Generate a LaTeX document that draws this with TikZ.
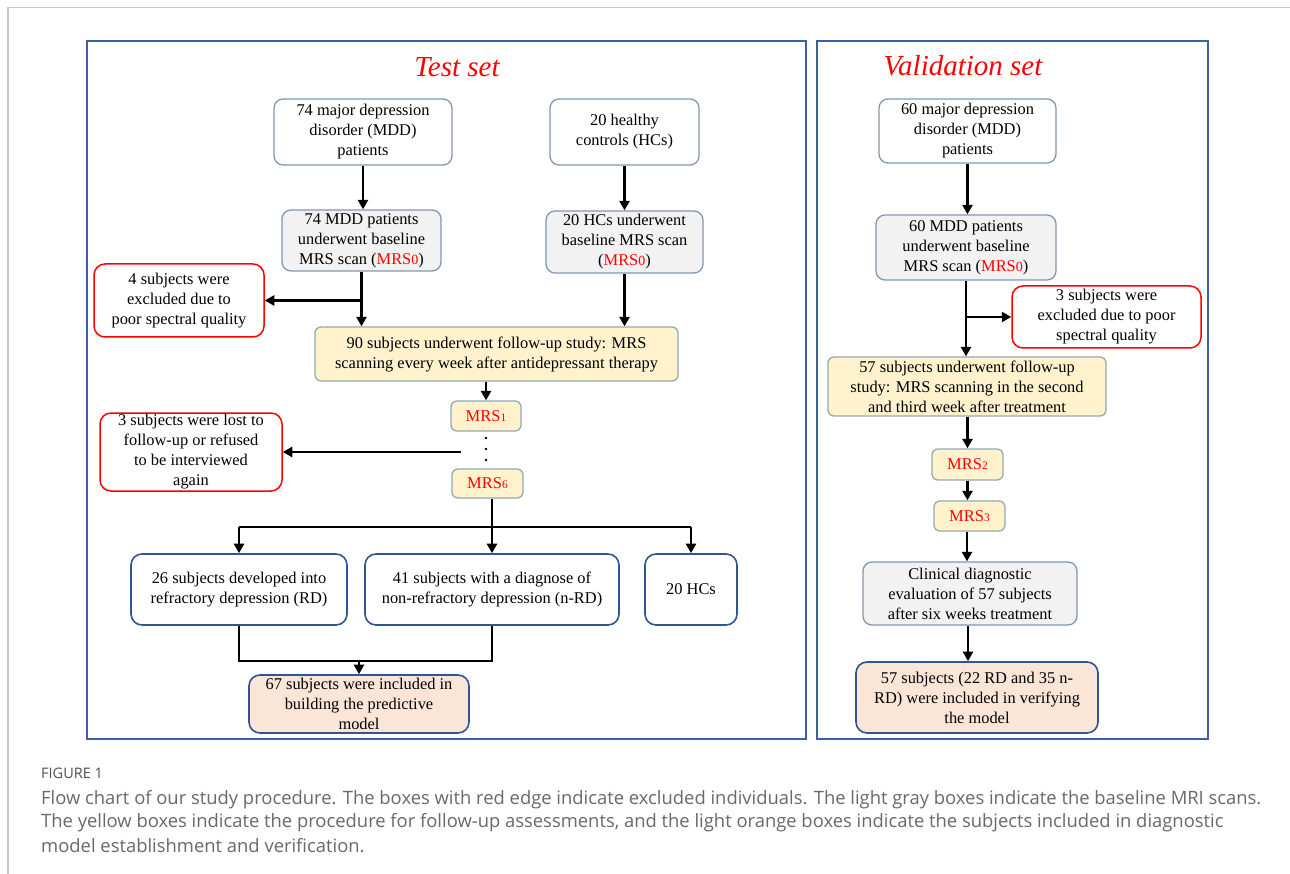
\documentclass[tikz,border=0pt]{standalone}
\usepackage{fontspec}
\setmainfont{Liberation Serif}
\newfontfamily\capfont{Open Sans}
\usetikzlibrary{arrows.meta,calc}
\definecolor{frameblue}{RGB}{62,96,160}
\definecolor{darkblue}{RGB}{47,85,151}
\definecolor{greyblue}{RGB}{132,151,176}
\definecolor{boxgray}{RGB}{242,242,242}
\definecolor{boxyellow}{RGB}{255,242,204}
\definecolor{yellowedge}{RGB}{146,170,176}
\definecolor{boxorange}{RGB}{251,229,214}
\definecolor{pagegray}{RGB}{200,200,200}
\definecolor{captext}{RGB}{105,105,105}
\definecolor{caphead}{RGB}{80,80,80}
\newcommand{\rd}[1]{\textcolor{red}{#1}}
\newcommand{\mrsz}{\rd{MRS{\fontsize{14}{14}\selectfont 0}}}
\newcommand{\mrsn}[1]{\rd{MRS{\fontsize{11.5}{11.5}\selectfont #1}}}
\begin{document}
\begin{tikzpicture}[x=1pt,y=-1pt,
  base/.style={rounded corners=9pt, align=center, inner sep=0pt,
     font=\fontsize{16.4}{20}\selectfont, line width=1.3pt},
  whitebox/.style={base, draw=greyblue, fill=white},
  graybox/.style={base, draw=greyblue, fill=boxgray},
  yelbox/.style={base, draw=yellowedge, fill=boxyellow, rounded corners=6pt},
  redbox/.style={base, draw=red, fill=white, rounded corners=11pt, line width=1.5pt},
  bluebox/.style={base, draw=darkblue, fill=white, rounded corners=11pt, line width=1.6pt},
  orbox/.style={base, draw=darkblue, fill=boxorange, rounded corners=11pt, line width=1.6pt},
  mrsbox/.style={yelbox, font=\fontsize{16.5}{18}\selectfont},
  arr/.style={line width=2.6pt, -{Triangle[length=9.5pt,width=10pt]}},
  ln/.style={line width=2.6pt},
  title/.style={font=\fontsize{29}{30}\selectfont\itshape, text=red},
  setframe/.style={draw=frameblue, line width=2pt},
  capline/.style={anchor=west, inner sep=0pt, text=captext, font=\capfont\fontsize{18.4}{20}\selectfont}
]
\useasboundingbox (0,0) rectangle (1290,874);
\fill[white] (0,0) rectangle (1290,874);
% page frame
\draw[pagegray, line width=1.5pt] (1290,7.5) -- (8,7.5) -- (8,874);

% set frames
\draw[setframe] (87,41.5) rectangle (806,739);
\draw[setframe] (817,41.5) rectangle (1207.5,739);
\node[title] (ttest) at (457,67) {Test set};
\node[title] (tval) at (963,66) {Validation set};

% ---------------- Test set ----------------
\node[whitebox, minimum width=178, minimum height=66] (mdd) at (363,132)
  {74 major depression\\disorder (MDD)\\patients};
\node[graybox, minimum width=159, minimum height=61] (mddb) at (361.5,240.5)
  {74 MDD patients\\underwent baseline\\MRS scan (\mrsz)};
\node[redbox, minimum width=170, minimum height=73] (ex4) at (179,300.5)
  {4 subjects were\\excluded due to\\poor spectral quality};
\node[whitebox, minimum width=149, minimum height=66] (hc) at (624.5,132)
  {20 healthy\\controls (HCs)};
\node[graybox, minimum width=157, minimum height=62] (hcb) at (624.5,242)
  {20 HCs underwent\\baseline MRS scan\\(\mrsz)};
\node[yelbox, minimum width=363, minimum height=54] (fu) at (496.5,354)
  {90 subjects underwent follow-up study: MRS\\scanning every week after antidepressant therapy};
\node[mrsbox, minimum width=70, minimum height=30] (m1) at (486,416) {\mrsn{1}};
\node[mrsbox, minimum width=71, minimum height=29] (m6) at (487.5,483.5) {\mrsn{6}};
\node[redbox, minimum width=182, minimum height=78] (ex3) at (191,452)
  {3 subjects were lost to\\follow-up or refused\\to be interviewed\\again};
\node[bluebox, minimum width=216, minimum height=71] (rdx) at (239,589.5)
  {26 subjects developed into\\refractory depression (RD)};
\node[bluebox, minimum width=254, minimum height=71] (nrd) at (492,589.5)
  {41 subjects with a diagnose of\\non-refractory depression (n-RD)};
\node[bluebox, minimum width=92, minimum height=71] (hcs) at (691,589.5)
  {20 HCs};
\node[orbox, minimum width=220, minimum height=58] (b67) at (359,704)
  {67 subjects were included in\\building the predictive\\model};

% dots between MRS1 and MRS6
\foreach \yy in {438,449,460} \fill (486,\yy) circle (1.3pt);

\draw[arr] (mdd.south) -- (mdd.south |- mddb.north);
\draw[arr] (mddb.south) -- (mddb.south |- fu.north);
\draw[arr] (mddb.south |- ex4.east) -- (ex4.east);
\draw[arr] (hc.south) -- (hc.south |- hcb.north);
\draw[arr] (hcb.south) -- (hcb.south |- fu.north);
\draw[arr] (m1.north |- fu.south) -- (m1.north);
\coordinate (lost) at (461,452);
\draw[arr] (lost) -- (ex3.east);
\coordinate (split) at (492,527);
\draw[ln] (m6.south -| split) -- (split);
\draw[ln] (rdx.north |- split) -- (hcs.north |- split);
\draw[arr] (rdx.north |- split) -- (rdx.north);
\draw[arr] (split) -- (nrd.north);
\draw[arr] (hcs.north |- split) -- (hcs.north);
\coordinate (join) at (359,661);
\draw[ln] (rdx.south) -- (rdx.south |- join) -- (nrd.south |- join) -- (nrd.south);
\draw[arr] (join) -- (b67.north);

% ---------------- Validation set ----------------
\node[whitebox, minimum width=177, minimum height=64] (vm) at (967.5,131)
  {60 major depression\\disorder (MDD)\\patients};
\node[graybox, minimum width=180, minimum height=65] (vb) at (966,247.5)
  {60 MDD patients\\underwent baseline\\MRS scan (\mrsz)};
\node[redbox, minimum width=189, minimum height=62] (vex) at (1106.5,317)
  {3 subjects were\\excluded due to poor\\spectral quality};
\node[yelbox, minimum width=278, minimum height=59] (vfu) at (967,386.5)
  {57 subjects underwent follow-up\\study: MRS scanning in the second\\and third week after treatment};
\node[mrsbox, minimum width=71, minimum height=31] (v2) at (967.5,464.5) {\mrsn{2}};
\node[mrsbox, minimum width=71, minimum height=30] (v3) at (969.5,516) {\mrsn{3}};
\node[graybox, minimum width=214, minimum height=63] (vc) at (970,593.5)
  {Clinical diagnostic\\evaluation of 57 subjects\\after six weeks treatment};
\node[orbox, minimum width=242, minimum height=71] (vf) at (977,697.5)
  {57 subjects (22 RD and 35 n-\\RD) were included in verifying\\the model};

\draw[arr] (vm.south) -- (vm.south |- vb.north);
\draw[arr] (vb.south) -- (vb.south |- vfu.north);
\draw[arr] (vb.south |- vex.west) -- (vex.west);
\draw[arr] (v2.north |- vfu.south) -- (v2.north);
\draw[arr] (v2.south) -- (v2.south |- v3.north);
\draw[arr] (v3.south -| 967,0) -- (vc.north -| 967,0);
\draw[arr] (vc.south -| 968,0) -- (vf.north -| 968,0);

% ---------------- Caption ----------------
\node[anchor=west, inner sep=0pt, text=caphead, font=\capfont\fontsize{14.5}{16}\selectfont] (caphead) at (41,773) {FIGURE 1};
\node[capline] (cap1) at (41,800)
  {Flow chart of our study procedure. The boxes with red edge indicate excluded individuals. The light gray boxes indicate the baseline MRI scans.};
\node[capline] (cap2) at (41,823)
  {The yellow boxes indicate the procedure for follow-up assessments, and the light orange boxes indicate the subjects included in diagnostic};
\node[capline] (cap3) at (41,846)
  {model establishment and verification.};
\end{tikzpicture}
\end{document}
